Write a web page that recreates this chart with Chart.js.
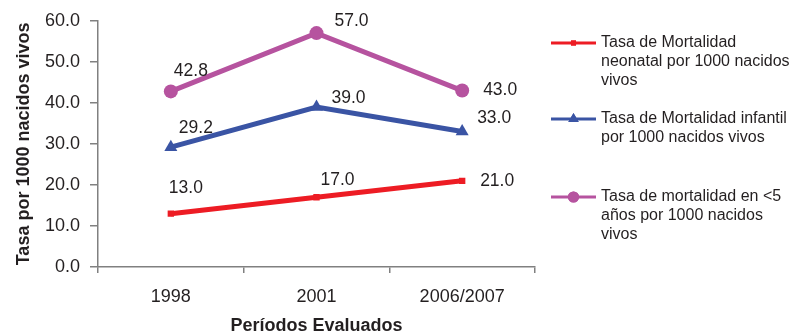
<!DOCTYPE html>
<html>
<head>
<meta charset="utf-8">
<script src="https://cdn.jsdelivr.net/npm/chart.js@4.4.1/dist/chart.umd.min.js"></script>
<style>
  html, body { margin: 0; padding: 0; background: #fff; overflow: hidden; }
  #wrap { position: relative; width: 797px; height: 331px; }
</style>
</head>
<body>
<div id="wrap"><canvas id="chart" width="797" height="331"></canvas></div>
<script>
// datos del gráfico
const periodos = ['1998', '2001', '2006/2007'];
const neonatal = [13.0, 17.0, 21.0];
const infantil = [29.2, 39.0, 33.0];
const menores5 = [42.8, 57.0, 43.0];
const nombresSeries = [
  'Tasa de Mortalidad\nneonatal por 1000 nacidos\nvivos',
  'Tasa de Mortalidad infantil\npor 1000 nacidos vivos',
  'Tasa de mortalidad en <5\naños por 1000 nacidos\nvivos'
];
const ejeY = { min: 0, max: 60, paso: 10 };
const tituloX = 'Períodos Evaluados';
const tituloY = 'Tasa por 1000 nacidos vivos';

const FONT = '"Liberation Sans", Arial, sans-serif';
const TEXTO = '#231f20';
const colores = ['#ed1c24', '#3a54a4', '#b6539f'];
const marcadores = ['rect', 'triangle', 'circle'];
const radios = [4.5, 7.5, 7];

// desplazamiento de las etiquetas respecto a cada punto
const despl = [
  [[15, -25], [21, -17], [35, 0]],
  [[25, -19], [32, -9], [32, -13]],
  [[20, -20], [35, -12], [38, 0]]
];

// etiquetas de valores
const etiquetas = {
  id: 'etiquetas',
  afterDatasetsDraw(chart) {
    const ctx = chart.ctx;
    ctx.save();
    ctx.font = '17.5px ' + FONT;
    ctx.fillStyle = TEXTO;
    ctx.textAlign = 'center';
    ctx.textBaseline = 'middle';
    chart.data.datasets.forEach((ds, i) => {
      chart.getDatasetMeta(i).data.forEach((p, j) => {
        const d = despl[i][j];
        ctx.fillText(ds.data[j].toFixed(1), p.x + d[0], p.y + d[1]);
      });
    });
    ctx.restore();
  }
};

// leyenda a la derecha
const leyenda = {
  id: 'leyenda',
  afterDraw(chart) {
    const ctx = chart.ctx;
    const filas = [43, 119, 197];
    ctx.save();
    chart.data.datasets.forEach((ds, i) => {
      const y = filas[i];
      ctx.strokeStyle = ds.borderColor;
      ctx.lineWidth = 3;
      ctx.beginPath();
      ctx.moveTo(551, y);
      ctx.lineTo(596, y);
      ctx.stroke();
      ctx.fillStyle = ds.borderColor;
      Chart.helpers.drawPoint(ctx, { pointStyle: ds.pointStyle, radius: ds.pointRadius * 0.8, borderWidth: 0 }, 573.5, y);
      ctx.fill();
      ctx.fillStyle = TEXTO;
      ctx.font = '16px ' + FONT;
      ctx.textAlign = 'left';
      ctx.textBaseline = 'middle';
      nombresSeries[i].split('\n').forEach((linea, k) => {
        ctx.fillText(linea, 601, y + k * 19);
      });
    });
    ctx.restore();
  }
};

const series = [neonatal, infantil, menores5];

new Chart(document.getElementById('chart'), {
  type: 'line',
  data: {
    labels: periodos,
    datasets: series.map((valores, i) => ({
      label: nombresSeries[i].replace(/\n/g, ' '),
      data: valores,
      borderColor: colores[i],
      backgroundColor: colores[i],
      borderWidth: 5,
      pointStyle: marcadores[i],
      pointRadius: radios[i],
      pointBorderWidth: 0,
      tension: 0
    }))
  },
  options: {
    responsive: false,
    animation: false,
    layout: { padding: { top: 20, right: 262, left: 0, bottom: 0 } },
    plugins: { legend: { display: false }, tooltip: { enabled: false } },
    scales: {
      x: {
        offset: true,
        grid: { offset: true, drawOnChartArea: false, drawTicks: true, tickLength: 6, color: '#808080', lineWidth: 1.5 },
        border: { display: true, color: '#808080', width: 1.5 },
        ticks: { color: TEXTO, font: { family: FONT, size: 18 }, padding: 13 },
        title: { display: true, text: tituloX, color: TEXTO, font: { family: FONT, size: 18, weight: 'bold' }, padding: { top: 0, bottom: -6 } },
        afterFit(s) { s.height = 64; }
      },
      y: {
        min: ejeY.min,
        max: ejeY.max,
        grid: { drawOnChartArea: false, drawTicks: true, tickLength: 8, color: '#808080', lineWidth: 1.5 },
        border: { display: true, color: '#808080', width: 1.5 },
        ticks: { stepSize: ejeY.paso, color: TEXTO, font: { family: FONT, size: 18 }, padding: 10, callback: v => v.toFixed(1) },
        title: { display: true, text: tituloY, color: TEXTO, font: { family: FONT, size: 18, weight: 'bold' }, padding: { top: 13, bottom: 0 } },
        afterFit(s) { s.width = 98; }
      }
    }
  },
  plugins: [etiquetas, leyenda]
});
</script>
</body>
</html>
